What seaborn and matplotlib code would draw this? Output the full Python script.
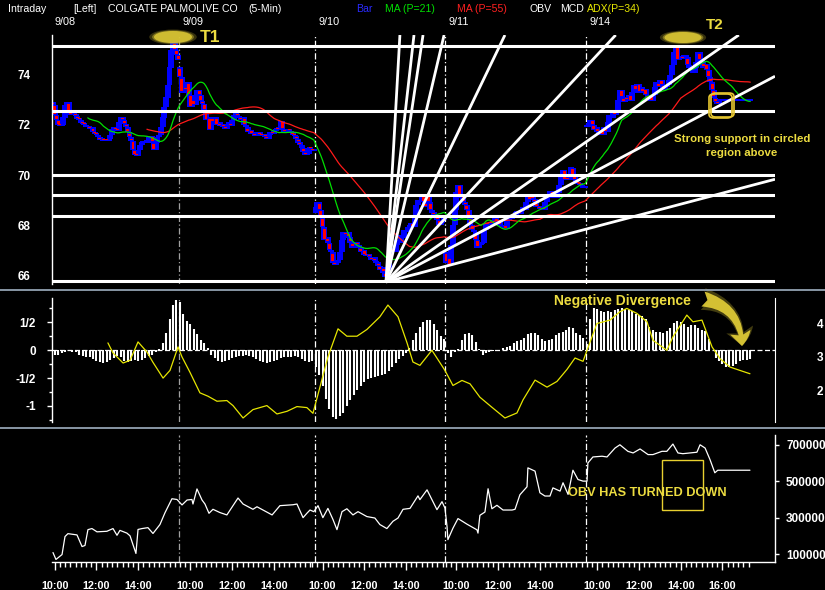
import numpy as np
import pandas as pd
import matplotlib
matplotlib.use('Agg')
import matplotlib.pyplot as plt
import seaborn as sns
from matplotlib.patches import Ellipse, FancyBboxPatch, Rectangle, FancyArrowPatch
from matplotlib.lines import Line2D
from matplotlib.ticker import MultipleLocator

########## data ##########
# 5-min closes, one list per session (bar numbers run on from 9/08 9:30 = 0)
close_0908 = [72.8, 72.4, 72.2, 72.0, 71.95, 72.0, 72.3, 72.8, 72.9, 72.5,
              72.4, 72.5, 72.45, 72.35, 72.25, 72.2, 72.1, 72.05, 72.0, 71.9,
              71.95, 71.85, 71.9, 71.7, 71.65, 71.6, 71.5, 71.4, 71.45, 71.35,
              71.4, 71.35, 71.45, 71.6, 71.85, 71.9, 71.8, 71.75, 72.1, 72.3,
              72.2, 72.05, 71.9, 71.7, 71.5, 71.35, 71.0, 70.8, 70.75, 71.0,
              71.2, 71.3, 71.35, 71.3, 71.4, 71.5, 71.55, 71.3, 71.0, 71.3,
              71.5, 71.6, 71.9, 72.3, 72.7, 73.1, 73.6, 74.3, 75.0, 75.3,
              75.0, 74.8, 74.6]
close_0909 = [73.9, 73.3, 73.5, 73.4, 73.7, 73.2, 72.7, 73.0, 72.8, 73.2,
              73.4, 73.2, 72.95, 72.85, 72.6, 72.2, 72.3, 71.8, 72.3, 72.1,
              72.3, 72.0, 72.1, 71.95, 72.05, 71.9, 71.85, 72.0, 72.1, 71.95,
              72.2, 72.4, 72.45, 72.35, 72.3, 72.2, 72.3, 72.0, 71.9, 71.7,
              71.8, 71.65, 71.7, 71.55, 71.6, 71.7, 71.6, 71.55, 71.65, 71.5,
              71.45, 71.6, 71.7, 71.65, 71.75, 71.85, 71.8, 71.9, 72.15, 71.85,
              71.7, 71.75, 71.8, 71.75, 71.7, 71.6, 71.55, 71.45, 71.3, 71.2,
              71.1, 70.9, 70.8, 70.85, 71.1, 71.05, 70.95, 71.0]
close_0910 = [68.7, 68.9, 68.6, 68.3, 67.9, 67.4, 67.5, 67.3, 67.0, 66.9,
              66.5, 66.4, 66.5, 66.6, 66.9, 67.4, 67.7, 67.6, 67.7, 67.5,
              67.3, 67.1, 67.2, 67.3, 67.2, 67.1, 66.9, 67.0, 66.8, 66.75,
              66.85, 66.7, 66.6, 66.7, 66.55, 66.5, 66.35, 66.2, 66.3, 66.1,
              65.9, 66.2, 66.6, 66.9, 67.1, 66.9, 67.2, 67.4, 67.3, 67.6,
              67.5, 67.8, 67.7, 67.9, 68.0, 68.1, 67.9, 68.4, 68.8, 69.0,
              68.9, 69.2, 68.9, 68.7, 69.2, 68.9, 68.6, 68.5, 68.4, 68.3,
              68.2, 68.0, 68.1, 68.2, 68.3]
close_0911 = [66.5, 66.7, 66.4, 67.2, 68.0, 68.6, 69.3, 69.6, 69.1, 69.2,
              68.9, 68.8, 68.6, 68.3, 68.0, 67.8, 67.7, 67.4, 67.1, 67.2, 67.25,
              67.3, 67.8, 68.1, 68.0, 68.1, 68.05, 68.2, 68.3, 68.1, 68.2,
              68.0, 67.9, 68.0, 67.85, 68.2, 68.3, 68.25, 68.4, 68.35, 68.5, 68.5,
              68.45, 68.55, 68.7, 68.6, 68.9, 69.2, 69.0, 69.1, 69.05, 68.9,
              68.7, 68.75, 68.65, 68.7, 68.6, 68.9, 69.2, 69.1, 69.35, 69.2, 69.15,
              69.1, 69.3, 69.6, 69.9, 70.2, 69.8, 69.9, 69.8, 69.9, 70.3,
              70.0, 69.8, 69.7, 69.65, 69.6, 69.55, 69.5, 69.5]
close_0914 = [71.9, 72.1, 72.2, 72.0, 71.8, 71.9, 71.7, 71.6, 71.8, 71.6,
              71.9, 71.7, 72.1, 72.4, 72.3, 72.5, 72.4, 72.6, 73.0, 73.4,
              73.1, 72.9, 73.1, 73.0, 73.2, 72.95, 73.3, 73.6, 73.4, 73.65,
              73.3, 73.5, 73.3, 73.45, 73.2, 73.0, 73.2, 72.95, 73.2, 73.5,
              73.7, 73.5, 73.8, 73.6, 73.4, 73.5, 73.6, 73.8, 74.0, 74.4,
              74.9, 75.2, 74.6, 74.7, 74.75, 74.65, 74.8, 74.7, 74.4, 74.3,
              74.2, 74.1, 74.3, 74.5, 74.9, 74.6, 74.5, 74.3, 74.45, 74.2,
              73.9, 73.7, 73.4, 73.1, 72.9, 72.85, 72.95,
              72.95, 72.95, 72.95, 72.95, 72.95, 72.95, 72.95, 72.95, 72.95,
              72.95, 72.95, 72.95, 72.95, 72.95, 72.95, 72.95, 72.95, 72.95]
day_first_bar = [5, 78, 156, 231, 312]
day_open = [72.9, 74.3, 68.5, 66.9, 72.0]
session_open = [0, 78, 154, 231, 312]        # bar no. of 9:30 each day
day_names = ['9/08', '9/09', '9/10', '9/11', '9/14']
last_bar = 406

price_ticks = [66, 68, 70, 72, 74]
levels = [75.16, 72.58, 69.98, 69.18, 68.38, 65.76]
fan_origin = (196.5, 65.72)
fan_ends = [(204.5, 75.6), (212.6, 75.6), (217.8, 75.6), (229.9, 75.6), (264.9, 75.6),
            (328.6, 75.6), (399.4, 75.6), (420.2, 73.95), (420.2, 69.83)]

# MCD histogram, every second bar from bar 6
hist = [-0.08, -0.09, -0.06, -0.03, -0.02, -0.03, -0.04, -0.08, -0.11, -0.12,
        -0.13, -0.16, -0.2, -0.22, -0.23, -0.21, -0.17, -0.14, -0.1, -0.13,
        -0.19, -0.21, -0.2, -0.18, -0.19, -0.17, -0.14, -0.1, -0.08, -0.04,
        0.02, 0.12, 0.3, 0.55, 0.8, 0.9, 0.85, 0.65, 0.52, 0.47,
        0.38, 0.28, 0.18, 0.12, 0.04, -0.08, -0.15, -0.2, -0.21, -0.2,
        -0.18, -0.15, -0.13, -0.11, -0.1, -0.09, -0.11, -0.12, -0.16, -0.2,
        -0.22, -0.23, -0.22, -0.2, -0.18, -0.14, -0.12, -0.13, -0.12, -0.1,
        -0.12, -0.16, -0.2, -0.21, -0.19, -0.3, -0.45, -0.65, -0.88, -1.05,
        -1.2, -1.23, -1.18, -1.12, -1.0, -0.9, -0.8, -0.72, -0.64, -0.57,
        -0.52, -0.5, -0.48, -0.46, -0.44, -0.43, -0.38, -0.3, -0.24, -0.16,
        -0.1, -0.05, 0.03, 0.18, 0.3, 0.42, 0.5, 0.53, 0.54, 0.47,
        0.35, 0.25, 0.2, -0.06, -0.12, -0.04, 0.02, 0.18, 0.28, 0.3,
        0.26, 0.14, 0.02, -0.08, -0.06, -0.03, -0.02, -0.02, 0.0, 0.03,
        0.05, 0.07, 0.12, 0.16, 0.18, 0.22, 0.28, 0.3, 0.3, 0.26,
        0.2, 0.17, 0.18, 0.2, 0.26, 0.3, 0.32, 0.36, 0.42, 0.4,
        0.3, 0.26, 0.22, 0.1, 0.55, 0.75, 0.74, 0.7, 0.68, 0.7,
        0.68, 0.72, 0.74, 0.75, 0.74, 0.72, 0.7, 0.65, 0.63, 0.6,
        0.55, 0.42, 0.36, 0.33, 0.32, 0.3, 0.34, 0.4, 0.48, 0.52,
        0.5, 0.46, 0.42, 0.45, 0.44, 0.4, 0.36, 0.34, 0.2, 0.0,
        -0.15, -0.2, -0.25, -0.3, -0.3, -0.28, -0.25, -0.2, -0.18, -0.17,
        -0.16]
macd_ticks = [0.5, 0, -0.5, -1]
macd_labels = ['1/2', '0', '-1/2', '-1']

adx_bar = [36.6, 39.5, 45.3, 49.3, 53.9, 59.0, 62.5, 68.3, 72.3, 76.9, 79.2, 83.8, 89.5,
           94.1, 99.3, 105.0, 108.5, 114.3, 120.0, 128.0, 133.8, 139.6, 145.3, 151.0,
           154.5, 158.5, 163.1, 168.9, 174.0, 179.8, 185.5, 193.0, 197.6, 203.4, 208.6,
           212.0, 216.0, 222.9, 230.4, 235.0, 240.2, 244.8, 250.5, 257.4, 264.9, 271.8,
           275.3, 282.2, 289.1, 294.8, 300.6, 305.2, 309.8, 312.6, 317.8, 325.3, 331.0,
           335.0, 340.8, 346.6, 350.0, 358.0, 361.5, 369.5, 373.0, 378.2, 384.0, 388.6,
           394.3, 400.0, 405.8]
adx = [3.42, 3.12, 2.82, 2.9, 3.45, 3.15, 2.84, 2.37, 2.6, 3.3, 3.0, 2.54, 1.93,
       1.83, 1.68, 1.7, 1.55, 1.18, 1.43, 1.55, 1.3, 1.38, 1.52, 1.49,
       1.32, 2.1, 3.0, 3.84, 3.62, 3.62, 3.82, 4.2, 4.55, 4.2, 3.42,
       2.85, 2.75, 3.2, 2.6, 2.15, 2.3, 2.2, 1.8, 1.5, 1.18, 1.33,
       1.72, 2.31, 2.1, 2.27, 2.63, 2.97, 2.87, 3.27, 4.0, 4.1, 4.35,
       4.45, 4.3, 4.05, 3.5, 3.2, 3.6, 4.25, 4.05, 4.1, 3.3, 2.95,
       2.7, 2.6, 2.5]
adx_ticks = [2, 3, 4]

obv_bar = [5, 6.7, 10.2, 11.9, 13.6, 18.8, 21.7, 23.4, 25.1, 27.4,
           30.3, 36.0, 39.5, 41.8, 43.5, 47.5, 49.3, 51.0, 52.7, 53.9,
           56.2, 59.6, 62.5, 66.5, 69.4, 73.4, 76.3, 79.2, 82.1, 84.9,
           85.5, 87.8, 90.7, 92.4, 94.7, 97.0, 101.0, 105.0, 108.5, 111.4,
           114.3, 120.0, 122.3, 125.8, 131.0, 135.5, 143.0, 145.3, 148.8, 151.0,
           152.8, 155.0, 157.4, 160.2, 163.1, 166.0, 168.3, 171.2, 174.0, 177.5,
           180.4, 185.5, 190.1, 193.0, 197.0, 200.5, 203.4, 206.3, 210.3, 214.9,
           216.0, 220.1, 225.8, 228.7, 230.4, 231.6, 232.1, 235.0, 237.9, 243.1,
           248.8, 249.4, 250.5, 253.4, 255.2, 257.4, 260.3, 263.8, 269.0, 270.7,
           273.5, 277.6, 278.1, 282.2, 285.0, 287.9, 290.8, 292.5, 296.6, 298.3,
           301.2, 304.0, 306.9, 309.8, 312.1, 312.6, 315.5, 320.7, 323.6, 328.2,
           331.0, 335.6, 338.6, 342.6, 347.2, 350.0, 355.2, 358.0, 361.5, 364.4,
           367.2, 371.3, 375.3, 377.1, 380.0, 382.8, 385.6, 387.3, 405.8]
obv_k = [108, 70, 97, 196, 212, 205, 141, 147, 234, 240,
         222, 225, 240, 203, 230, 215, 200, 152, 103, 235,
         240, 245, 213, 262, 327, 404, 400, 370, 397, 400,
         375, 458, 397, 375, 324, 346, 328, 315, 366, 408,
         375, 346, 360, 342, 315, 366, 371, 375, 300, 324,
         342, 333, 366, 300, 351, 290, 234, 333, 349, 315,
         333, 306, 298, 262, 240, 280, 298, 346, 351, 420,
         399, 453, 344, 388, 353, 251, 179, 242, 295, 264,
         233, 215, 313, 331, 459, 349, 368, 342, 342, 346,
         426, 470, 574, 556, 437, 419, 419, 464, 446, 492,
         428, 561, 510, 501, 501, 601, 634, 638, 634, 683,
         701, 665, 656, 678, 647, 647, 665, 665, 705, 656,
         652, 656, 660, 701, 683, 620, 547, 561, 561]
obv_ticks = [100000, 300000, 500000, 700000]

########## build frames ##########
days = [close_0908, close_0909, close_0910, close_0911, close_0914]
bars = np.concatenate([np.arange(f, f + len(c)) for f, c in zip(day_first_bar, days)])
px = pd.DataFrame({'bar': bars, 'close': np.concatenate(days)})
px['open'] = px['close'].shift(1)
for f, o in zip(day_first_bar, day_open):
    px.loc[px.bar == f, 'open'] = o
px['ma21'] = px['close'].rolling(21).mean()
px['ma55'] = px['close'].rolling(55).mean()
lo = px[['open', 'close']].min(axis=1)
hi = px[['open', 'close']].max(axis=1)
body = (hi - lo).clip(lower=0.07)
down = px['close'] < px['open']

hist_bar = np.arange(6, 6 + 2 * len(hist), 2)
obv = pd.DataFrame({'bar': obv_bar, 'obv': np.array(obv_k) * 1000})
adf = pd.DataFrame({'bar': adx_bar, 'adx': adx})

########## figure ##########
sns.set_style('dark')
plt.rcParams['font.family'] = ['Liberation Sans', 'DejaVu Sans']
W, H = 825, 590
fig = plt.figure(figsize=(W / 100, H / 100), dpi=100, facecolor='black')

def rect(l, t, r, b):
    return [l / W, 1 - b / H, (r - l) / W, (b - t) / H]

def fxy(x, y):
    return (x / W, 1 - y / H)

ax_p = fig.add_axes(rect(52, 35, 775, 284))
ax_m = fig.add_axes(rect(52, 298, 775, 422))
ax_o = fig.add_axes(rect(52, 435, 775, 562))
xlim = (4.43, 420.2)
seps = [f - 0.5 for f in day_first_bar[1:]]
sep_col = ['#a0a0a0', 'white', 'white', 'white']
YEL = '#ecdc40'

for ax in (ax_p, ax_m, ax_o):
    ax.set_facecolor('black')
    for s in ax.spines.values():
        s.set_visible(False)
        s.set_color('white')
        s.set_linewidth(1)
    ax.grid(False)
    for s, c in zip(seps, sep_col):
        ax.axvline(s, color=c, lw=0.9, ls=(0, (5, 2, 1, 2)), zorder=1.5)
    ax.tick_params(axis='x', bottom=False, labelbottom=False)

# ---- price panel
ax_p.bar(px['bar'], body, bottom=lo, width=3.4, color='#0000ff', linewidth=0, zorder=2)
rb = (body[down] - 0.09).clip(lower=0.03)
ax_p.bar(px['bar'][down], rb, bottom=lo[down] + 0.045, width=1.7, color='#ff0000',
         linewidth=0, zorder=2.1)
sns.lineplot(x=px['bar'], y=px['ma55'], ax=ax_p, color='#ff1a1a', lw=0.9, zorder=3)
sns.lineplot(x=px['bar'], y=px['ma21'], ax=ax_p, color='#00e000', lw=0.9, zorder=3)
for v in levels:
    ax_p.axhline(v, color='white', lw=2.2, zorder=4)
for ex, ey in fan_ends:
    ax_p.plot([fan_origin[0], ex], [fan_origin[1], ey], color='white', lw=2.0,
              solid_capstyle='butt', zorder=4)
ax_p.spines['left'].set_visible(True)
ax_p.set_yticks(price_ticks, [str(t) for t in price_ticks], fontweight='bold', fontsize=8.5)
ax_p.yaxis.set_minor_locator(MultipleLocator(0.5))
ax_p.tick_params(axis='y', which='both', colors='white', direction='out', width=1, pad=12)
ax_p.tick_params(axis='y', which='major', length=3.5)
ax_p.tick_params(axis='y', which='minor', length=2.5)
ax_p.set_ylim(65.64, 75.6)
ax_p.set_xlim(*xlim)
ax_p.set_xlabel('')
ax_p.set_ylabel('')
label_x = [xlim[0] + 1.5] + [s + 2 for s in seps]
for x, t in zip(label_x, day_names):
    ax_p.text(x, 1.052, t, transform=ax_p.get_xaxis_transform(), color='white',
              fontsize=7.8, ha='left', va='center')

# ---- MCD / ADX panel
ax_m.vlines(hist_bar, 0, hist, color='white', lw=1.5, zorder=2)
ax_m.axhline(0, color='white', lw=0.9, ls=(0, (4, 2)), zorder=2)
ax_m.spines['left'].set_visible(True)
ax_m.set_yticks(macd_ticks, macd_labels, fontweight='bold', fontsize=8.5)
ax_m.yaxis.set_minor_locator(MultipleLocator(0.25))
ax_m.tick_params(axis='y', which='both', colors='white', direction='out', width=1, pad=8)
ax_m.tick_params(axis='y', which='major', length=3.5)
ax_m.tick_params(axis='y', which='minor', length=2.5)
ax_m.set_ylim(-1.286, 0.93)
ax_m.set_xlim(*xlim)
ax_a = ax_m.twinx()
sns.lineplot(data=adf, x='bar', y='adx', ax=ax_a, color='#e6e600', lw=0.9, zorder=3)
for s in ax_a.spines.values():
    s.set_visible(False)
ax_a.spines['right'].set_visible(True)
ax_a.spines['right'].set_color('white')
ax_a.set_yticks(adx_ticks, [str(t) for t in adx_ticks], fontweight='bold', fontsize=8.5)
ax_a.tick_params(axis='y', colors='white', length=0, pad=30)
ax_a.set_ylim(1.06, 4.76)
ax_a.set_xlim(*xlim)
ax_a.set_ylabel('')
ax_a.grid(False)
ax_m.set_xlabel('')

# ---- OBV panel
sns.lineplot(data=obv, x='bar', y='obv', ax=ax_o, color='white', lw=0.9, zorder=3)
ax_o.spines['right'].set_visible(True)
ax_o.spines['bottom'].set_visible(True)
ax_o.yaxis.tick_right()
ax_o.set_yticks(obv_ticks, [str(t) for t in obv_ticks], fontweight='bold', fontsize=8.5)
ax_o.tick_params(axis='y', colors='white', length=3, width=1, pad=5, left=False, right=True)
ax_o.set_ylabel('')
ax_o.set_xlabel('')
tick_pos, tick_lab = [], []
for d, s in enumerate(session_open):
    for off, lab in ((6, '10:00'), (30, '12:00'), (54, '14:00')):
        tick_pos.append(s + off)
        tick_lab.append(lab)
tick_pos.append(session_open[-1] + 78)
tick_lab.append('16:00')
ends = session_open[1:] + [last_bar + 1]
minor = np.concatenate([np.arange(s, e, 3) for s, e in zip(session_open, ends)])
minor = minor[minor > xlim[0]]
ax_o.set_xticks(tick_pos, tick_lab, fontweight='bold', fontsize=7.8)
ax_o.set_xticks(minor, minor=True)
ax_o.tick_params(axis='x', which='both', bottom=True, labelbottom=True, colors='white',
                 direction='out', width=1)
ax_o.tick_params(axis='x', which='major', length=6, pad=8)
ax_o.tick_params(axis='x', which='minor', length=3.5)
ax_o.set_ylim(56000, 754800)
ax_o.set_xlim(*xlim)

# ---- header
head = [(8, 'Intraday', 'white'), (73, '[Left]', 'white'),
        (108, 'COLGATE PALMOLIVE CO', 'white'), (248, '(5-Min)', 'white'),
        (356, 'Bar', '#2a2aff'), (385, 'MA (P=21)', '#00e000'),
        (457, 'MA (P=55)', '#ff2020'), (530, 'OBV', 'white'), (560, 'MCD', 'white'),
        (587, 'ADX(P=34)', '#e6e600')]
for x, t, c in head:
    fig.text(*fxy(x, 8.5), t, color=c, fontsize=7.6, ha='left', va='center')

# panel dividers
for y in (290, 428):
    fig.add_artist(Line2D([0, 1], [1 - y / H] * 2, transform=fig.transFigure,
                          color='#93a2b2', lw=1.3))

# ---- annotations
def blob(cx, cy, w, h):
    for k, a in ((1.25, 0.25), (1.1, 0.45), (1.0, 0.9)):
        fig.add_artist(Ellipse(fxy(cx, cy), w * k / W, h * k / H, transform=fig.transFigure,
                               color='#d8c434', alpha=a, lw=0))

blob(173, 37, 38, 12)
blob(683, 37.5, 37, 11)
fig.text(*fxy(210, 37), 'T1', color=YEL, fontsize=12.5, fontweight='bold', ha='center', va='center')
fig.text(*fxy(715, 25), 'T2', color=YEL, fontsize=11, fontweight='bold', ha='center', va='center')

fig.text(*fxy(742, 146), 'Strong support in circled\nregion above', color=YEL, fontsize=8.2,
         fontweight='bold', ha='center', va='center', linespacing=1.6,
         family=['Liberation Sans Narrow', 'Liberation Sans', 'DejaVu Sans'])
for dx, dy in ((0, 0), (2, -1)):
    fig.add_artist(FancyBboxPatch(fxy(709 + dx, 118 + dy), 23 / W, 24 / H,
                                  boxstyle='round,pad=0,rounding_size=0.006',
                                  transform=fig.transFigure, ec='#e8c830', fc='none', lw=1.2))

fig.text(*fxy(622, 301), 'Negative Divergence', color=YEL, fontsize=10, fontweight='bold',
         ha='center', va='center')
for sty, a in (('fancy,head_length=12,head_width=20,tail_width=16', 0.3),
               ('fancy,head_length=10,head_width=15,tail_width=11', 0.95)):
    fig.add_artist(FancyArrowPatch(fxy(703, 299), fxy(742, 346), transform=fig.transFigure,
                                   arrowstyle=sty, connectionstyle='arc3,rad=-0.4',
                                   color='#dcc836', alpha=a, shrinkA=0, shrinkB=0, lw=0))

fig.add_artist(Rectangle(fxy(662, 510), 41 / W, 50 / H, transform=fig.transFigure,
                         ec='#e8d030', fc='none', lw=1))
fig.text(*fxy(647, 493), 'OBV HAS TURNED DOWN', color=YEL, fontsize=9.2, fontweight='bold',
         ha='center', va='center')

fig.savefig('out.png', dpi=100, facecolor='black')
